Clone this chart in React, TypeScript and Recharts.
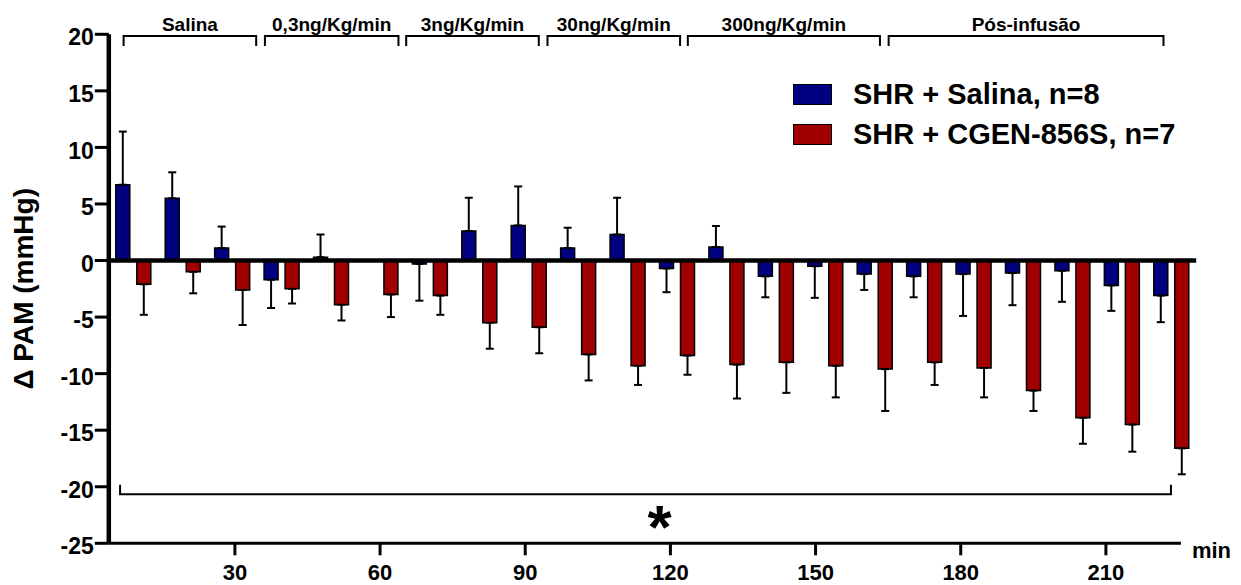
import React from 'react';
import { ComposedChart, Bar, Line, XAxis, YAxis, ErrorBar, ReferenceLine, Legend } from 'recharts';

const FONT = '"Liberation Sans", Arial, Helvetica, sans-serif';

// 22 time points (10-min blocks)
const timePoints = [10, 20, 30, 40, 50, 60, 70, 80, 90, 100, 110, 120, 130, 140, 150, 160, 170, 180, 190, 200, 210, 220];

// SHR + Salina, n=8 (mean, SEM)
const salinaMean = [6.7, 5.5, 1.1, -1.7, 0.3, 0.0, -0.3, 2.6, 3.1, 1.1, 2.3, -0.7, 1.2, -1.4, -0.5, -1.2, -1.4, -1.2, -1.1, -0.9, -2.2, -3.1];
const salinaSem = [4.7, 2.3, 1.9, 2.5, 2.0, 2.65, 3.25, 2.95, 3.45, 1.8, 3.25, 2.1, 1.85, 1.85, 2.8, 1.4, 1.85, 3.7, 2.85, 2.75, 2.25, 2.35];

// SHR + CGEN-856S, n=7 (mean, SEM)
const cgenMean = [-2.1, -1.0, -2.6, -2.5, -3.9, -3.0, -3.1, -5.5, -5.9, -8.3, -9.3, -8.4, -9.2, -9.0, -9.3, -9.6, -9.0, -9.5, -11.5, -13.9, -14.5, -16.6];
const cgenSem = [2.7, 1.9, 3.1, 1.3, 1.4, 2.0, 1.7, 2.3, 2.3, 2.3, 1.7, 1.7, 3.0, 2.7, 2.8, 3.7, 2.0, 2.6, 1.8, 2.3, 2.4, 2.3];

const seriesNames = ['SHR + Salina, n=8', 'SHR + CGEN-856S, n=7'];
const seriesColors = ['#000080', '#A00000'];

const yTicks = [-25, -20, -15, -10, -5, 0, 5, 10, 15, 20];
const xTicks = [30, 60, 90, 120, 150, 180, 210];
const xDomain = [3.94, 228.66];
const xAxisEnd = 225.5;
const xUnit = 'min';

// phase brackets (minutes)
const phaseLabels = ['Salina', '0,3ng/Kg/min', '3ng/Kg/min', '30ng/Kg/min', '300ng/Kg/min', 'Pós-infusão'];
const phaseStart = [7, 36.2, 65.4, 94.6, 123.6, 165.1];
const phaseEnd = [34.4, 63.8, 92.8, 122, 163.3, 221.9];
const phaseY = 19.85;

// significance bracket
const sigStart = 6.27;
const sigEnd = 223.44;
const sigY = -20.66;
const sigLabel = '*';

const oneSided = (m: number, e: number) => (m >= 0 ? [0, e] : [e, 0]);

const data = timePoints.map((t, i) => ({
  t,
  salina: salinaMean[i],
  salinaErr: oneSided(salinaMean[i], salinaSem[i]),
  cgen: cgenMean[i],
  cgenErr: oneSided(cgenMean[i], cgenSem[i]),
}));

const bracketShape = (tick: number) => (p: any) => {
  const { x1, y1, x2, y2 } = p;
  return (
    <path
      d={`M${x1},${y1 + tick} L${x1},${y1} L${x2},${y2} L${x2},${y2 + tick}`}
      fill="none"
      stroke="#000"
      strokeWidth={2}
    />
  );
};

const renderLegend = (props: any) => {
  const payload = (props.payload || [])
    .filter((p: any) => seriesNames.includes(p.value))
    .sort((a: any, b: any) => seriesNames.indexOf(a.value) - seriesNames.indexOf(b.value));
  return (
    <div style={{ fontFamily: FONT, fontWeight: 'bold', fontSize: 29, color: '#000' }}>
      {payload.map((p: any, i: number) => (
        <div
          key={p.value}
          style={{ display: 'flex', alignItems: 'center', height: 21, marginBottom: i === 0 ? 19 : 0 }}
        >
          <span
            style={{
              display: 'inline-block',
              width: 39,
              height: 21,
              boxSizing: 'border-box',
              background: seriesColors[seriesNames.indexOf(p.value)],
              border: '1.5px solid #000',
            }}
          />
          <span style={{ marginLeft: 21, lineHeight: '21px', whiteSpace: 'nowrap' }}>{p.value}</span>
        </div>
      ))}
    </div>
  );
};

const tickStyle = { fontSize: 22, fontWeight: 'bold', fill: '#000', fontFamily: FONT };

export default function App() {
  return (
    <div style={{ width: 1225, height: 577, background: '#fff' }}>
      <ComposedChart
        width={1225}
        height={577}
        data={data}
        margin={{ top: 26.3, right: 36.8, bottom: 11.7, left: 10 }}
        barSize={14}
        barGap={7}
      >
        <XAxis
          xAxisId="num"
          dataKey="t"
          type="number"
          domain={xDomain}
          allowDataOverflow
          ticks={xTicks}
          axisLine={false}
          tickLine={{ stroke: '#000', strokeWidth: 3 }}
          tickSize={12}
          tickMargin={9}
          height={30}
          tick={tickStyle}
        />
        <XAxis xAxisId="cat" dataKey="t" type="category" hide height={0} />
        <YAxis
          type="number"
          domain={[-25, 20]}
          ticks={yTicks}
          allowDataOverflow
          width={90.8}
          axisLine={{ stroke: '#000', strokeWidth: 4.5 }}
          tickLine={{ stroke: '#000', strokeWidth: 3 }}
          tickSize={14}
          tickMargin={1}
          tick={{ ...tickStyle, fontSize: 23, dy: 3 }}
          label={{
            value: 'Δ PAM (mmHg)',
            angle: -90,
            position: 'insideLeft',
            offset: 9,
            dx: -4,
            style: { textAnchor: 'middle', fontSize: 28, fontWeight: 'bold', fill: '#000', fontFamily: FONT },
          }}
        />
        <Legend
          layout="vertical"
          align="center"
          verticalAlign="middle"
          content={renderLegend}
          wrapperStyle={{ left: 785, top: 76, width: 'auto', height: 'auto' }}
        />
        <Bar
          xAxisId="cat"
          dataKey="salina"
          name={seriesNames[0]}
          fill={seriesColors[0]}
          stroke="#000"
          strokeWidth={1.5}
          isAnimationActive={false}
        >
          <ErrorBar dataKey="salinaErr" width={4} stroke="#000" strokeWidth={2} direction="y" />
        </Bar>
        <Bar
          xAxisId="cat"
          dataKey="cgen"
          name={seriesNames[1]}
          fill={seriesColors[1]}
          stroke="#000"
          strokeWidth={1.5}
          isAnimationActive={false}
        >
          <ErrorBar dataKey="cgenErr" width={4} stroke="#000" strokeWidth={2} direction="y" />
        </Bar>
        <Line
          xAxisId="num"
          dataKey="salina"
          stroke="none"
          dot={false}
          activeDot={false}
          legendType="none"
          isAnimationActive={false}
        />
        <ReferenceLine xAxisId="num" y={0} stroke="#000" strokeWidth={4.5} ifOverflow="visible" />
        <ReferenceLine
          xAxisId="num"
          segment={[{ x: xDomain[0], y: -25 }, { x: xAxisEnd, y: -25 }]}
          stroke="#000"
          strokeWidth={3}
          ifOverflow="visible"
          label={{
            value: xUnit,
            position: 'right',
            offset: 11,
            dy: 7,
            style: { fontSize: 22, fontWeight: 'bold', fill: '#000', fontFamily: FONT },
          }}
        />
        {phaseLabels.map((lab, i) => (
          <ReferenceLine
            key={lab}
            xAxisId="num"
            segment={[{ x: phaseStart[i], y: phaseY }, { x: phaseEnd[i], y: phaseY }]}
            ifOverflow="visible"
            shape={bracketShape(10)}
            label={{
              value: lab,
              position: 'top',
              offset: 5,
              style: { fontSize: 19, fontWeight: 'bold', fill: '#000', fontFamily: FONT },
            }}
          />
        ))}
        <ReferenceLine
          xAxisId="num"
          segment={[{ x: sigStart, y: sigY }, { x: sigEnd, y: sigY }]}
          ifOverflow="visible"
          shape={bracketShape(-9.5)}
          label={{
            value: sigLabel,
            position: 'bottom',
            offset: 10,
            dx: 14,
            style: { fontSize: 62, fontWeight: 'bold', fill: '#000', fontFamily: FONT },
          }}
        />
      </ComposedChart>
    </div>
  );
}
